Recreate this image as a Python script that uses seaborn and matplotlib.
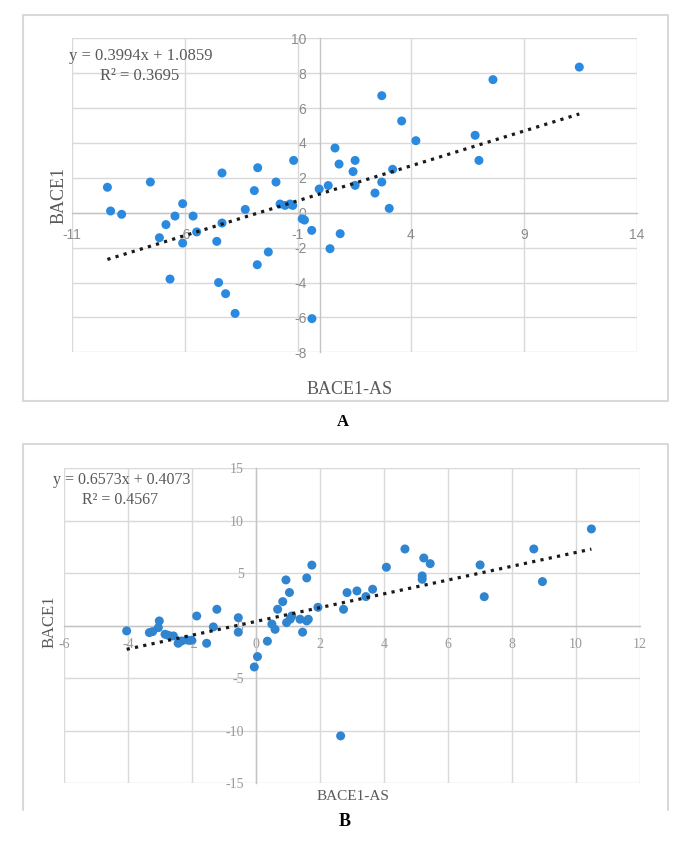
import matplotlib
matplotlib.use("Agg")
import matplotlib.pyplot as plt
import seaborn as sns
import pandas as pd
from matplotlib.lines import Line2D

# Panel A data (BACE1-AS vs BACE1)
a_x = [-9.42, -9.28, -8.79, -7.52, -7.12, -6.83, -6.65, -6.43, -6.09, -6.09,
       -5.63, -5.47, -4.58, -4.50, -4.35, -4.35, -4.19, -3.77, -3.32, -2.92,
       -2.79, -2.77, -2.30, -1.96, -1.78, -1.56, -1.34, -1.22, -1.18, -0.80,
       -0.70, -0.38, -0.37, -0.05, 0.35, 0.43, 0.65, 0.83, 0.88, 1.45,
       1.54, 1.54, 2.42, 2.72, 2.72, 3.05, 3.20, 3.60, 4.23, 6.85,
       7.02, 7.64, 11.46]
a_y = [1.46, 0.10, -0.09, 1.76, -1.43, -0.68, -3.80, -0.19, 0.52, -1.74,
       -0.19, -1.10, -1.64, -4.00, 2.28, -0.59, -4.64, -5.77, 0.19, 1.27,
       -2.98, 2.58, -2.25, 1.76, 0.50, 0.42, 0.50, 0.42, 3.00, -0.35,
       -0.42, -1.01, -6.07, 1.36, 1.56, -2.06, 3.71, 2.79, -1.20, 2.36,
       3.00, 1.57, 1.13, 6.71, 1.76, 0.25, 2.49, 5.26, 4.13, 4.44,
       3.00, 7.63, 8.35]
a_slope, a_icpt, a_r2 = 0.3994, 1.0859, 0.3695
a_xticks = [-11, -6, -1, 4, 9, 14]
a_yticks = [-8, -6, -4, -2, 0, 2, 4, 6, 8, 10]

# Panel B data
b_x = [-4.05, -3.34, -3.24, -3.06, -3.03, -2.85, -2.75, -2.59, -2.44, -2.33,
       -2.17, -2.02, -1.86, -1.55, -1.34, -1.23, -0.56, -0.56, -0.06, 0.04,
       0.35, 0.49, 0.59, 0.67, 0.83, 0.93, 0.95, 1.04, 1.06, 1.11,
       1.37, 1.45, 1.58, 1.58, 1.63, 1.74, 1.93, 2.64, 2.73, 2.84,
       3.15, 3.43, 3.64, 4.07, 4.65, 5.19, 5.19, 5.24, 5.44, 7.00,
       7.13, 8.68, 8.95, 10.48]
b_y = [-0.50, -0.66, -0.57, -0.19, 0.45, -0.82, -0.92, -0.98, -1.68, -1.46,
       -1.36, -1.39, 0.92, -1.68, -0.12, 1.56, 0.76, -0.62, -3.94, -2.95,
       -1.48, 0.15, -0.35, 1.56, 2.29, 4.36, 0.29, 3.16, 0.61, 0.92,
       0.61, -0.62, 4.55, 0.45, 0.61, 5.77, 1.75, -10.51, 1.56, 3.15,
       3.31, 2.77, 3.47, 5.57, 7.31, 4.74, 4.42, 6.45, 5.91, 5.79,
       2.76, 7.31, 4.20, 9.22]
b_slope, b_icpt, b_r2 = 0.6573, 0.4073, 0.4567
b_xticks = [-6, -4, -2, 0, 2, 4, 6, 8, 10, 12]
b_yticks = [-15, -10, -5, 0, 5, 10, 15]

sns.set_style("white")
plt.rcParams["axes.unicode_minus"] = False
serif = ["Liberation Serif", "DejaVu Serif"]
W, H = 694, 850

fig = plt.figure(figsize=(W / 100, H / 100), dpi=100)


def fx(px):
    return px / W


def fy(py):
    return 1 - py / H


def panel(ax, xs, ys, slope, icpt, xticks, yticks, color, tick_font, tick_color,
          xpad, ypad):
    df = pd.DataFrame({"x": xs, "y": ys})
    sns.scatterplot(data=df, x="x", y="y", ax=ax, color=color, s=42,
                    edgecolor="none", zorder=3)
    trend = pd.DataFrame({"x": [min(xs), max(xs)]})
    trend["y"] = slope * trend["x"] + icpt
    sns.lineplot(data=trend, x="x", y="y", ax=ax, color="#1a1a1a",
                 linestyle=":", linewidth=2.3, zorder=4)
    ax.set_xlim(xticks[0], xticks[-1])
    ax.set_ylim(yticks[0], yticks[-1])
    ax.set_xticks(xticks)
    ax.set_yticks(yticks)
    ax.grid(True, color="#d9d9d9", linewidth=1)
    ax.set_axisbelow(True)
    for s in ["top", "right"]:
        ax.spines[s].set_visible(False)
    ax.spines["left"].set_position(("data", 0))
    ax.spines["bottom"].set_position(("data", 0))
    for s in ["left", "bottom"]:
        ax.spines[s].set_color("#c4c4c4")
        ax.spines[s].set_linewidth(1)
    ax.tick_params(axis="x", length=0, pad=xpad, labelcolor=tick_color)
    ax.tick_params(axis="y", length=0, pad=ypad, labelcolor=tick_color)
    for lab in ax.get_xticklabels() + ax.get_yticklabels():
        lab.set_fontfamily(tick_font)
        lab.set_fontsize(10)
    ax.set_xlabel("")
    ax.set_ylabel("")


# panel A
axA = fig.add_axes([fx(71.7), fy(352.3), (636.7 - 71.7) / W, (352.3 - 38.3) / H])
panel(axA, a_x, a_y, a_slope, a_icpt, a_xticks, a_yticks, "#2a8ae0",
      ["Liberation Sans", "DejaVu Sans"], "#8c8c8c", 11, 10)

# panel B
axB = fig.add_axes([fx(64.3), fy(783), (640 - 64.3) / W, (783 - 468.3) / H])
panel(axB, b_x, b_y, b_slope, b_icpt, b_xticks, b_yticks, "#2f85d0",
      serif, "#9a9a9a", 9, 9)

# panel borders
border = "#d9d9d9"
for x0, y0, x1, y1, bottom in [(22.7, 15, 668, 400.7, True), (22.7, 444, 668, 810, False)]:
    pts = [(x0, y1), (x0, y0), (x1, y0), (x1, y1)]
    if bottom:
        pts.append((x0, y1))
    fig.add_artist(Line2D([fx(p[0]) for p in pts], [fy(p[1]) for p in pts],
                          color=border, linewidth=1.5, transform=fig.transFigure))

txt = "#595959"
# equations
fig.text(fx(140.5), fy(55.7), f"y = {a_slope:.4f}x + {a_icpt:.4f}", family=serif,
         fontsize=12, color=txt, ha="center", va="center")
fig.text(fx(140), fy(75.7), f"R² = {a_r2:.4f}", family=serif,
         fontsize=12, color=txt, ha="center", va="center")
fig.text(fx(121.5), fy(480), f"y = {b_slope:.4f}x + {b_icpt:.4f}", family=serif,
         fontsize=11.5, color=txt, ha="center", va="center")
fig.text(fx(120.5), fy(500), f"R² = {b_r2:.4f}", family=serif,
         fontsize=11.5, color=txt, ha="center", va="center")

# axis titles
fig.text(fx(59), fy(195), "BACE1", family=serif, fontsize=13, color=txt,
         rotation=90, ha="center", va="center")
fig.text(fx(349.5), fy(389), "BACE1-AS", family=serif, fontsize=13, color=txt,
         ha="center", va="center")
fig.text(fx(50), fy(622), "BACE1", family=serif, fontsize=12, color=txt,
         rotation=90, ha="center", va="center")
fig.text(fx(352.5), fy(797), "BACE1-AS", family=serif, fontsize=11, color=txt,
         ha="center", va="center")

# panel letters
fig.text(fx(343), fy(421.7), "A", family=serif, fontsize=12, fontweight="bold",
         color="black", ha="center", va="center")
fig.text(fx(345), fy(821), "B", family=serif, fontsize=13, fontweight="bold",
         color="black", ha="center", va="center")

fig.savefig("out.png", dpi=100)
